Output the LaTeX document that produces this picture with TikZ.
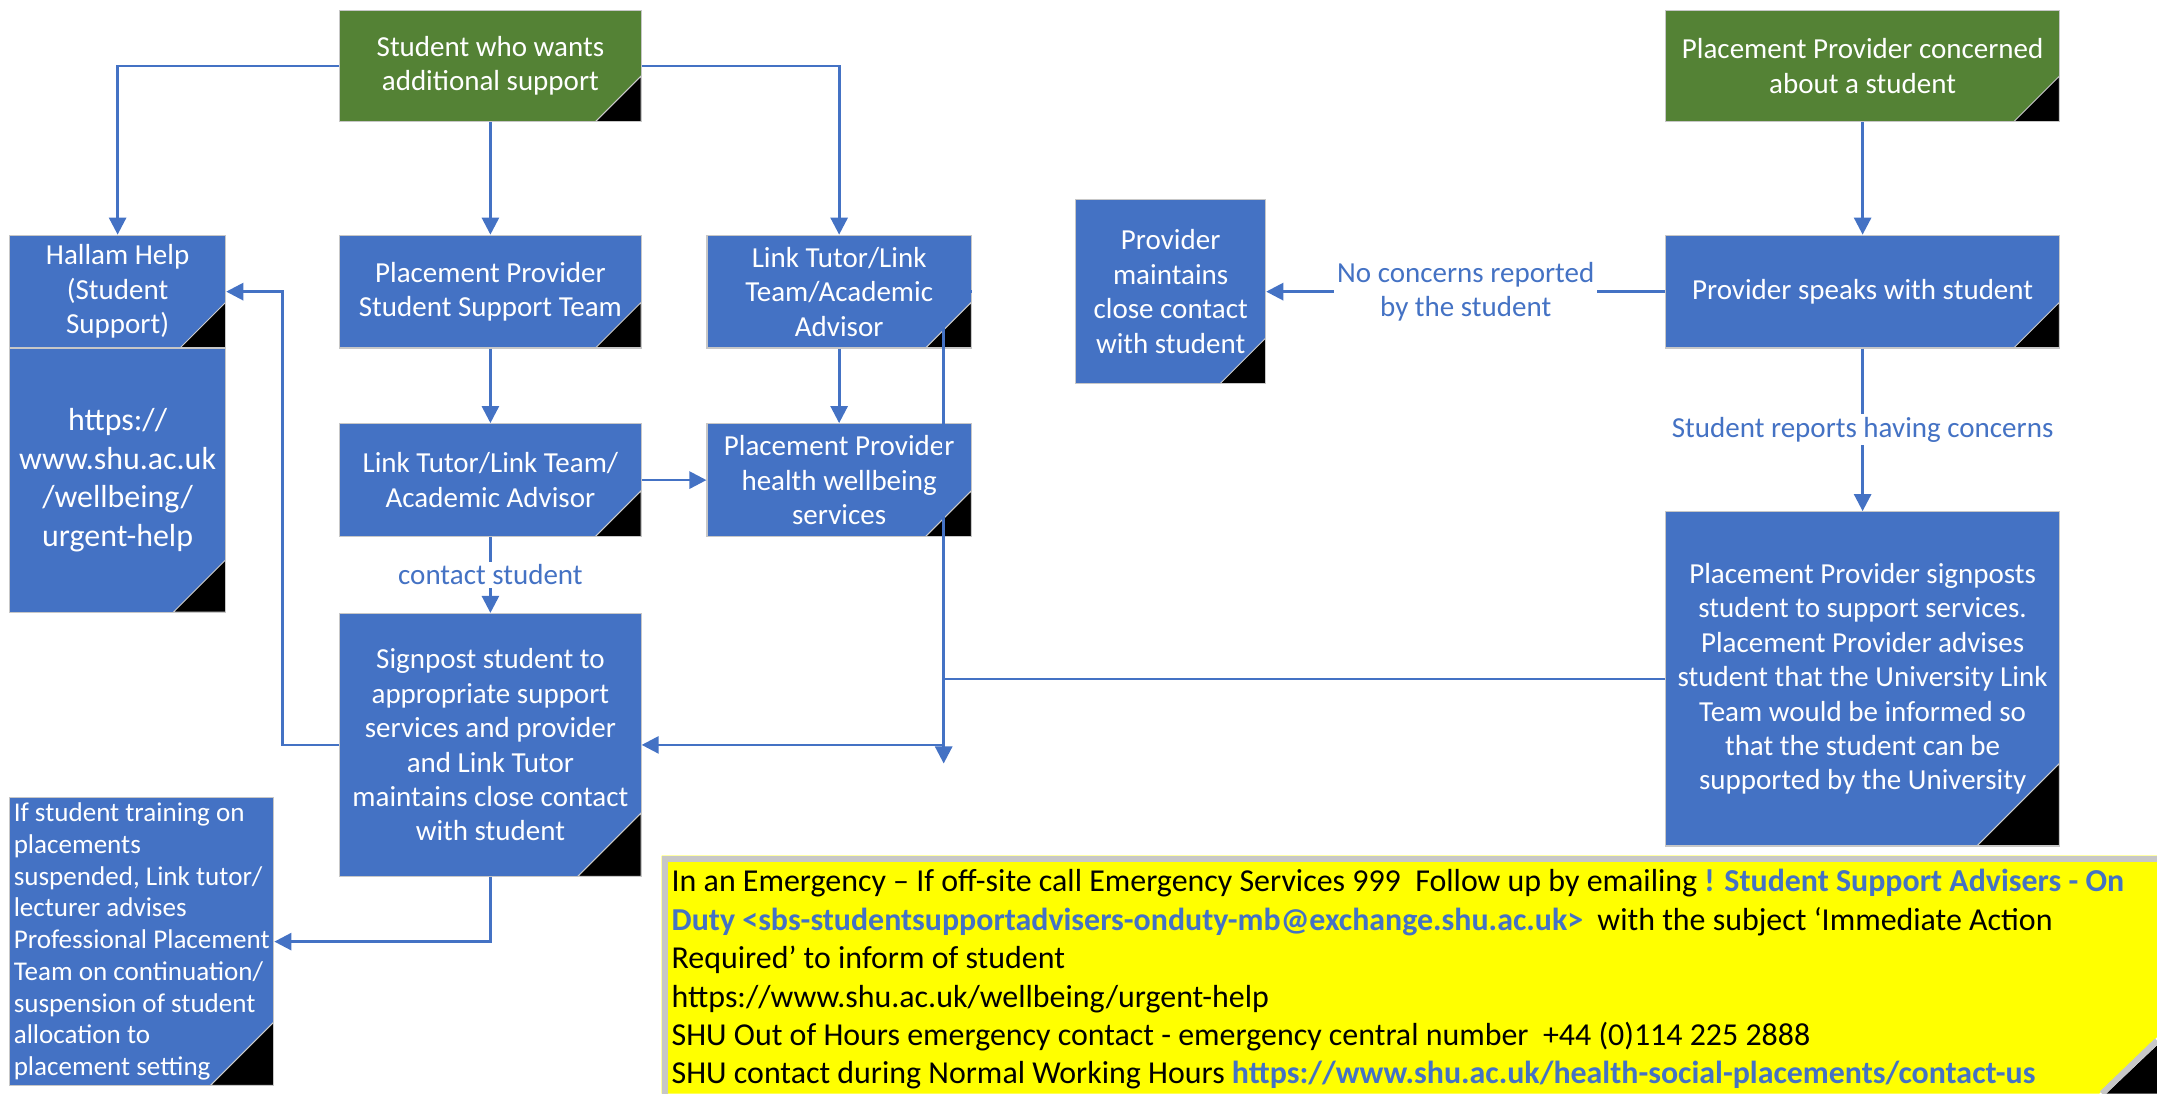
\documentclass[tikz,border=0pt]{standalone}
\usepackage{fontspec}
\setmainfont{Carlito}
\usetikzlibrary{arrows.meta}
\definecolor{mblue}{HTML}{4472C4}
\definecolor{mgreen}{HTML}{548235}
\definecolor{myellow}{HTML}{FFFF00}

\begin{document}
\begin{tikzpicture}[x=0.025cm,y=-0.025cm,>={Triangle[length=3.1mm,width=3.1mm]},
  box/.style={fill=mblue,draw=black!22,line width=0.6pt,text=white,align=center,inner sep=0pt,font=\fontsize{15}{17.8}\selectfont},
  start/.style={box,fill=mgreen},
  fold/.style={path picture={\fill[black,draw=black!20,line width=0.5pt] (path picture bounding box.south east) -- ++(-#1,0) -- ++(#1,#1) -- cycle;}},
  fold/.default=0.83cm,
  flow/.style={draw=mblue,line width=1.4pt},
  lbl/.style={text=mblue,fill=white,align=center,inner sep=1.5pt,font=\fontsize{15}{17.8}\selectfont}]
  \useasboundingbox (0,0) rectangle (1568,795);
  % start boxes
  \node[start,fold,minimum width=5.475cm,minimum height=2.025cm] (stud) at (356.5,48) {Student who wants\\additional support};
  \node[start,fold,minimum width=7.15cm,minimum height=2.025cm] (concern) at (1354,48) {Placement Provider concerned\\about a student};
  % left column
  \node[box,fold,minimum width=3.925cm,minimum height=2.05cm] (hallam) at (85.5,212) {Hallam Help\\(Student\\Support)};
  \node[box,fold=0.95cm,minimum width=3.925cm,minimum height=4.8cm,font=\fontsize{16.5}{19.84}\selectfont] (url) at (85.5,349) {https://\\www.shu.ac.uk\\/wellbeing/\\urgent-help};
  \node[box,fold=1.15cm,minimum width=4.8cm,minimum height=5.225cm,align=left,font=\fontsize{14}{16.4}\selectfont] (susp) at (103,684.5) {If student training on\\placements\\suspended, Link tutor/\\lecturer advises\\Professional Placement\\Team on continuation/\\suspension of student\\allocation to\\placement setting};
  % student route
  \node[box,fold,minimum width=5.475cm,minimum height=2.05cm] (ppsst) at (356.5,212) {Placement Provider\\Student Support Team};
  \node[box,fold,minimum width=4.8cm,minimum height=2.05cm] (link) at (610,212) {Link Tutor/Link\\Team/Academic\\Advisor};
  \node[box,fold,minimum width=5.475cm,minimum height=2.05cm] (linkt) at (356.5,349) {Link Tutor/Link Team/\\Academic Advisor};
  \node[box,fold,minimum width=4.8cm,minimum height=2.05cm] (wellb) at (610,349) {Placement Provider\\health wellbeing\\services};
  \node[box,fold=1.15cm,minimum width=5.475cm,minimum height=4.775cm] (signp) at (356.5,541.5) {Signpost student to\\appropriate support\\services and provider\\and Link Tutor\\maintains close contact\\with student};
  % provider route
  \node[box,fold,minimum width=3.45cm,minimum height=3.35cm] (maint) at (851,212) {Provider\\maintains\\close contact\\with student};
  \node[box,fold,minimum width=7.15cm,minimum height=2.05cm] (speaks) at (1354,212) {Provider speaks with student};
  \node[box,fold=1.5cm,minimum width=7.15cm,minimum height=6.075cm] (ppsign) at (1354,493.5) {Placement Provider signposts\\student to support services.\\Placement Provider advises\\student that the University Link\\Team would be informed so\\that the student can be\\supported by the University};
  \coordinate (drop) at (686,555);
  % connectors
  \draw[flow,->] (stud.west) -| (hallam.north);
  \draw[flow,->] (stud) -- (ppsst);
  \draw[flow,->] (stud.east) -| (link.north);
  \draw[flow,->] (ppsst) -- (linkt);
  \draw[flow,->] (link) -- (wellb);
  \draw[flow,->] (linkt) -- (wellb);
  \draw[flow,->] (linkt) -- node[lbl]{contact student} (signp);
  \draw[flow,->] (signp.west) -- ++(-41,0) |- (hallam.east);
  \draw[flow,->] (signp.south) |- (susp.east);
  \draw[flow,->] (concern) -- (speaks);
  \draw[flow,->] (speaks) -- node[lbl]{No concerns reported\\by the student} (maint);
  \draw[flow,->] (speaks) -- node[lbl]{Student reports having concerns} (ppsign);
  \draw[flow,->] (ppsign.west) -- (ppsign.west -| drop) |- (signp.east);
  \draw[flow,->] (link.east) -- (link.east -| drop) -- (drop);
  % emergency note
  \fill[myellow] (481,622) -- (1568,622) -- (1568,754) -- (1526,795) -- (481,795) -- cycle;
  \fill[black] (1568,760) -- (1568,795) -- (1531,795) -- cycle;
  \draw[black!22,line width=0.11cm] (1568,624.5) -- (483.5,624.5) -- (483.5,795);
  \draw[black!22,line width=0.11cm] (1568,756.5) -- (1528,795);
  \node[anchor=west,align=left,inner sep=0pt,font=\fontsize{16.5}{19.84}\selectfont] (emerg) at (488,712) {In an Emergency – If off-site call Emergency Services 999~~Follow up by emailing \textbf{\color{mblue}! Student Support Advisers - On}\\
    \textbf{\color{mblue}Duty <sbs-studentsupportadvisers-onduty-mb@exchange.shu.ac.uk>}~~with the subject ‘Immediate Action\\
    Required’ to inform of student\\
    https://www.shu.ac.uk/wellbeing/urgent-help\\
    SHU Out of Hours emergency contact - emergency central number~~+44 (0)114 225 2888\\
    SHU contact during Normal Working Hours \textbf{\color{mblue}https://www.shu.ac.uk/health-social-placements/contact-us}};
\end{tikzpicture}
\end{document}
